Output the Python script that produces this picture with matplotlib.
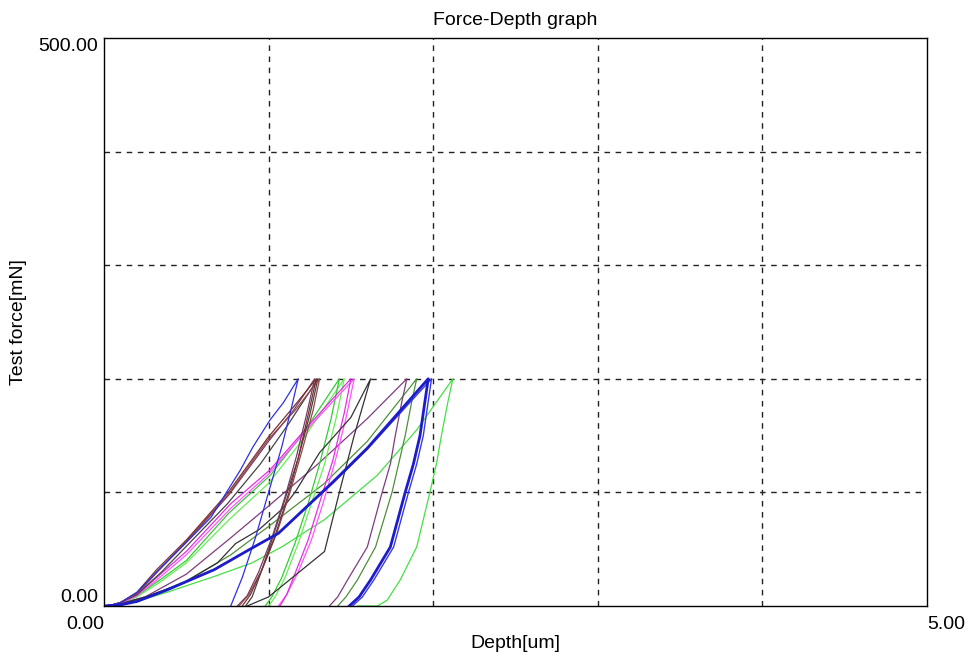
import matplotlib
matplotlib.use("Agg")
import matplotlib.pyplot as plt

plt.rcParams['font.family'] = ['Liberation Sans', 'DejaVu Sans']

# depth [um] / force [mN], loading then unloading
blue1_depth = [0, 0.05, 0.1, 0.2, 0.32, 0.5, 0.65, 0.83, 0.905, 1.01, 1.09, 1.18,
               1.14, 1.08, 1.0, 0.92, 0.84, 0.77]
blue1_force = [0, 1, 3, 12, 30, 56, 78, 120, 140, 164, 179, 200,
               175, 140, 100, 60, 25, 0]

brown1_depth = [0, 0.05, 0.1, 0.2, 0.32, 0.5, 0.755, 1.0, 1.15, 1.29,
                1.24, 1.18, 1.12, 1.04, 0.96, 0.89, 0.84]
brown1_force = [0, 1, 3, 12, 32, 58, 100, 149, 175, 200,
                168, 130, 98, 62, 32, 10, 0]

brown2_depth = [0, 0.05, 0.1, 0.2, 0.33, 0.5, 0.76, 1.0, 1.16, 1.31,
                1.27, 1.2, 1.13, 1.05, 0.96, 0.88, 0.82]
brown2_force = [0, 1, 3, 11, 31, 57, 99, 147, 172, 200,
                172, 135, 100, 64, 32, 10, 0]

purple1_depth = [0, 0.05, 0.1, 0.21, 0.33, 0.5, 0.76, 1.0, 1.15, 1.28,
                 1.23, 1.17, 1.1, 1.02, 0.94, 0.87, 0.81]
purple1_force = [0, 1, 3, 12, 31, 56, 98, 145, 172, 200,
                 168, 132, 96, 60, 30, 9, 0]

black1_depth = [0, 0.05, 0.1, 0.2, 0.35, 0.55, 0.75, 0.95, 1.12, 1.3,
                1.25, 1.18, 1.1, 1.02, 0.95, 0.9, 0.86]
black1_force = [0, 1, 3, 10, 30, 60, 90, 125, 160, 200,
                168, 130, 94, 58, 28, 8, 0]

magenta1_depth = [0, 0.05, 0.1, 0.2, 0.32, 0.5, 0.77, 1.01, 1.25, 1.5,
                  1.46, 1.39, 1.31, 1.24, 1.17, 1.11, 1.07]
magenta1_force = [0, 1, 3, 10, 25, 48, 90, 120, 160, 200,
                  170, 128, 91, 58, 32, 10, 0]

magenta2_depth = [0, 0.05, 0.1, 0.2, 0.33, 0.5, 0.77, 1.0, 1.25, 1.52,
                  1.47, 1.4, 1.33, 1.26, 1.18, 1.11, 1.06]
magenta2_force = [0, 1, 2, 9, 24, 45, 86, 116, 158, 200,
                  165, 125, 90, 58, 30, 10, 0]

green1_depth = [0, 0.05, 0.1, 0.2, 0.35, 0.5, 0.76, 1.01, 1.2, 1.43,
                1.38, 1.31, 1.24, 1.16, 1.08, 1.02, 0.98]
green1_force = [0, 1, 2, 9, 24, 40, 82, 115, 150, 200,
                165, 125, 90, 55, 25, 8, 0]

green2_depth = [0, 0.05, 0.1, 0.2, 0.35, 0.5, 0.76, 1.0, 1.2, 1.46,
                1.41, 1.34, 1.26, 1.18, 1.1, 1.04, 1.0]
green2_force = [0, 1, 2, 8, 22, 38, 76, 108, 145, 200,
                165, 125, 90, 55, 25, 8, 0]

black2_depth = [0, 0.1, 0.25, 0.48, 0.69, 0.8, 0.94, 1.08, 1.16, 1.31, 1.5, 1.62,
                1.52, 1.43, 1.34, 1.17, 1.0, 0.87]
black2_force = [0, 2, 8, 20, 38, 55, 67, 85, 100, 135, 166, 200,
                150, 100, 48, 28, 8, 0]

purple2_depth = [0, 0.1, 0.25, 0.5, 0.77, 1.0, 1.3, 1.6, 1.84,
                 1.81, 1.77, 1.74, 1.69, 1.6, 1.48, 1.42, 1.37]
purple2_force = [0, 2, 8, 28, 60, 88, 125, 165, 200,
                 180, 150, 125, 100, 52, 23, 8, 0]

olive_depth = [0, 0.1, 0.25, 0.5, 0.77, 1.0, 1.34, 1.6, 1.9,
               1.87, 1.83, 1.79, 1.75, 1.65, 1.54, 1.47, 1.42]
olive_force = [0, 2, 7, 22, 45, 70, 108, 145, 200,
               180, 150, 125, 100, 52, 23, 8, 0]

blue2_depth = [0, 0.1, 0.2, 0.38, 0.67, 0.875, 1.06, 1.39, 1.6, 1.97,
               1.95, 1.92, 1.88, 1.83, 1.74, 1.62, 1.55, 1.49]
blue2_force = [0, 1, 4, 14, 32, 49, 64, 109, 139, 200,
               180, 150, 125, 100, 52, 23, 8, 0]

blue3_depth = [0, 0.1, 0.2, 0.38, 0.67, 0.875, 1.06, 1.39, 1.6, 1.99,
               1.97, 1.94, 1.9, 1.85, 1.76, 1.64, 1.57, 1.51]
blue3_force = [0, 1, 4, 14, 32, 49, 64, 108, 138, 200,
               180, 150, 125, 100, 52, 23, 8, 0]

green3_depth = [0, 0.1, 0.2, 0.38, 0.67, 0.9, 1.08, 1.34, 1.66, 1.9, 2.12,
                2.09, 2.05, 2.02, 1.98, 1.9, 1.8, 1.72, 1.66, 1.54]
green3_force = [0, 1, 4, 12, 26, 38, 52, 76, 115, 155, 200,
                180, 150, 125, 100, 52, 23, 5, 0, 0]

curves = [
    (green3_depth, green3_force, '#44e044', 0.9),
    (olive_depth, olive_force, '#4f8f3a', 0.9),
    (purple2_depth, purple2_force, '#7d3c7d', 0.9),
    (green2_depth, green2_force, '#66ee55', 0.9),
    (green1_depth, green1_force, '#33cc33', 0.9),
    (magenta2_depth, magenta2_force, '#ff55ff', 0.9),
    (magenta1_depth, magenta1_force, '#e030e0', 0.9),
    (black2_depth, black2_force, '#333333', 0.9),
    (black1_depth, black1_force, '#444444', 0.9),
    (purple1_depth, purple1_force, '#7a3a6a', 0.9),
    (brown2_depth, brown2_force, '#904848', 0.9),
    (brown1_depth, brown1_force, '#7a3030', 0.9),
    (blue1_depth, blue1_force, '#3030e0', 0.9),
    (blue3_depth, blue3_force, '#3a3ae0', 1.0),
    (blue2_depth, blue2_force, '#1c1cc8', 2.0),
]

fig = plt.figure(figsize=(9.68, 6.57), dpi=100)
ax = fig.add_axes([0.1074, 0.0776, 0.8502, 0.8646])

for d, f, c, lw in curves:
    ax.plot(d, f, color=c, lw=lw)

ax.set_xlim(0, 5)
ax.set_ylim(0, 500)

# dashed grid
for gx in [1, 2, 3, 4]:
    ax.axvline(gx, color='#222222', lw=1, ls=(0, (4, 4)), zorder=0)
for gy in [100, 200, 300, 400]:
    ax.axhline(gy, color='#222222', lw=1, ls=(0, (4, 4)), zorder=0)

ax.set_xticks([0, 5])
ax.set_xticklabels(['0.00', '5.00'], fontsize=14)
ax.set_yticks([0, 500])
ax.set_yticklabels(['0.00', '500.00'], fontsize=14)
ax.tick_params(length=0, pad=4)
ax.tick_params(axis='x', pad=7)
xl = ax.get_xticklabels()
xl[0].set_ha('right')
xl[1].set_ha('left')
yl = ax.get_yticklabels()
yl[0].set_va('bottom')
yl[1].set_va('top')

for s in ax.spines.values():
    s.set_color('black')
    s.set_linewidth(1)

ax.set_title('Force-Depth graph', fontsize=14, pad=9)
ax.set_xlabel('Depth[um]', fontsize=14)
ax.set_ylabel('Test force[mN]', fontsize=14)
ax.xaxis.set_label_coords(0.5, -0.051)
ax.yaxis.set_label_coords(-0.094, 0.5)

plt.savefig('out.png', dpi=100)
